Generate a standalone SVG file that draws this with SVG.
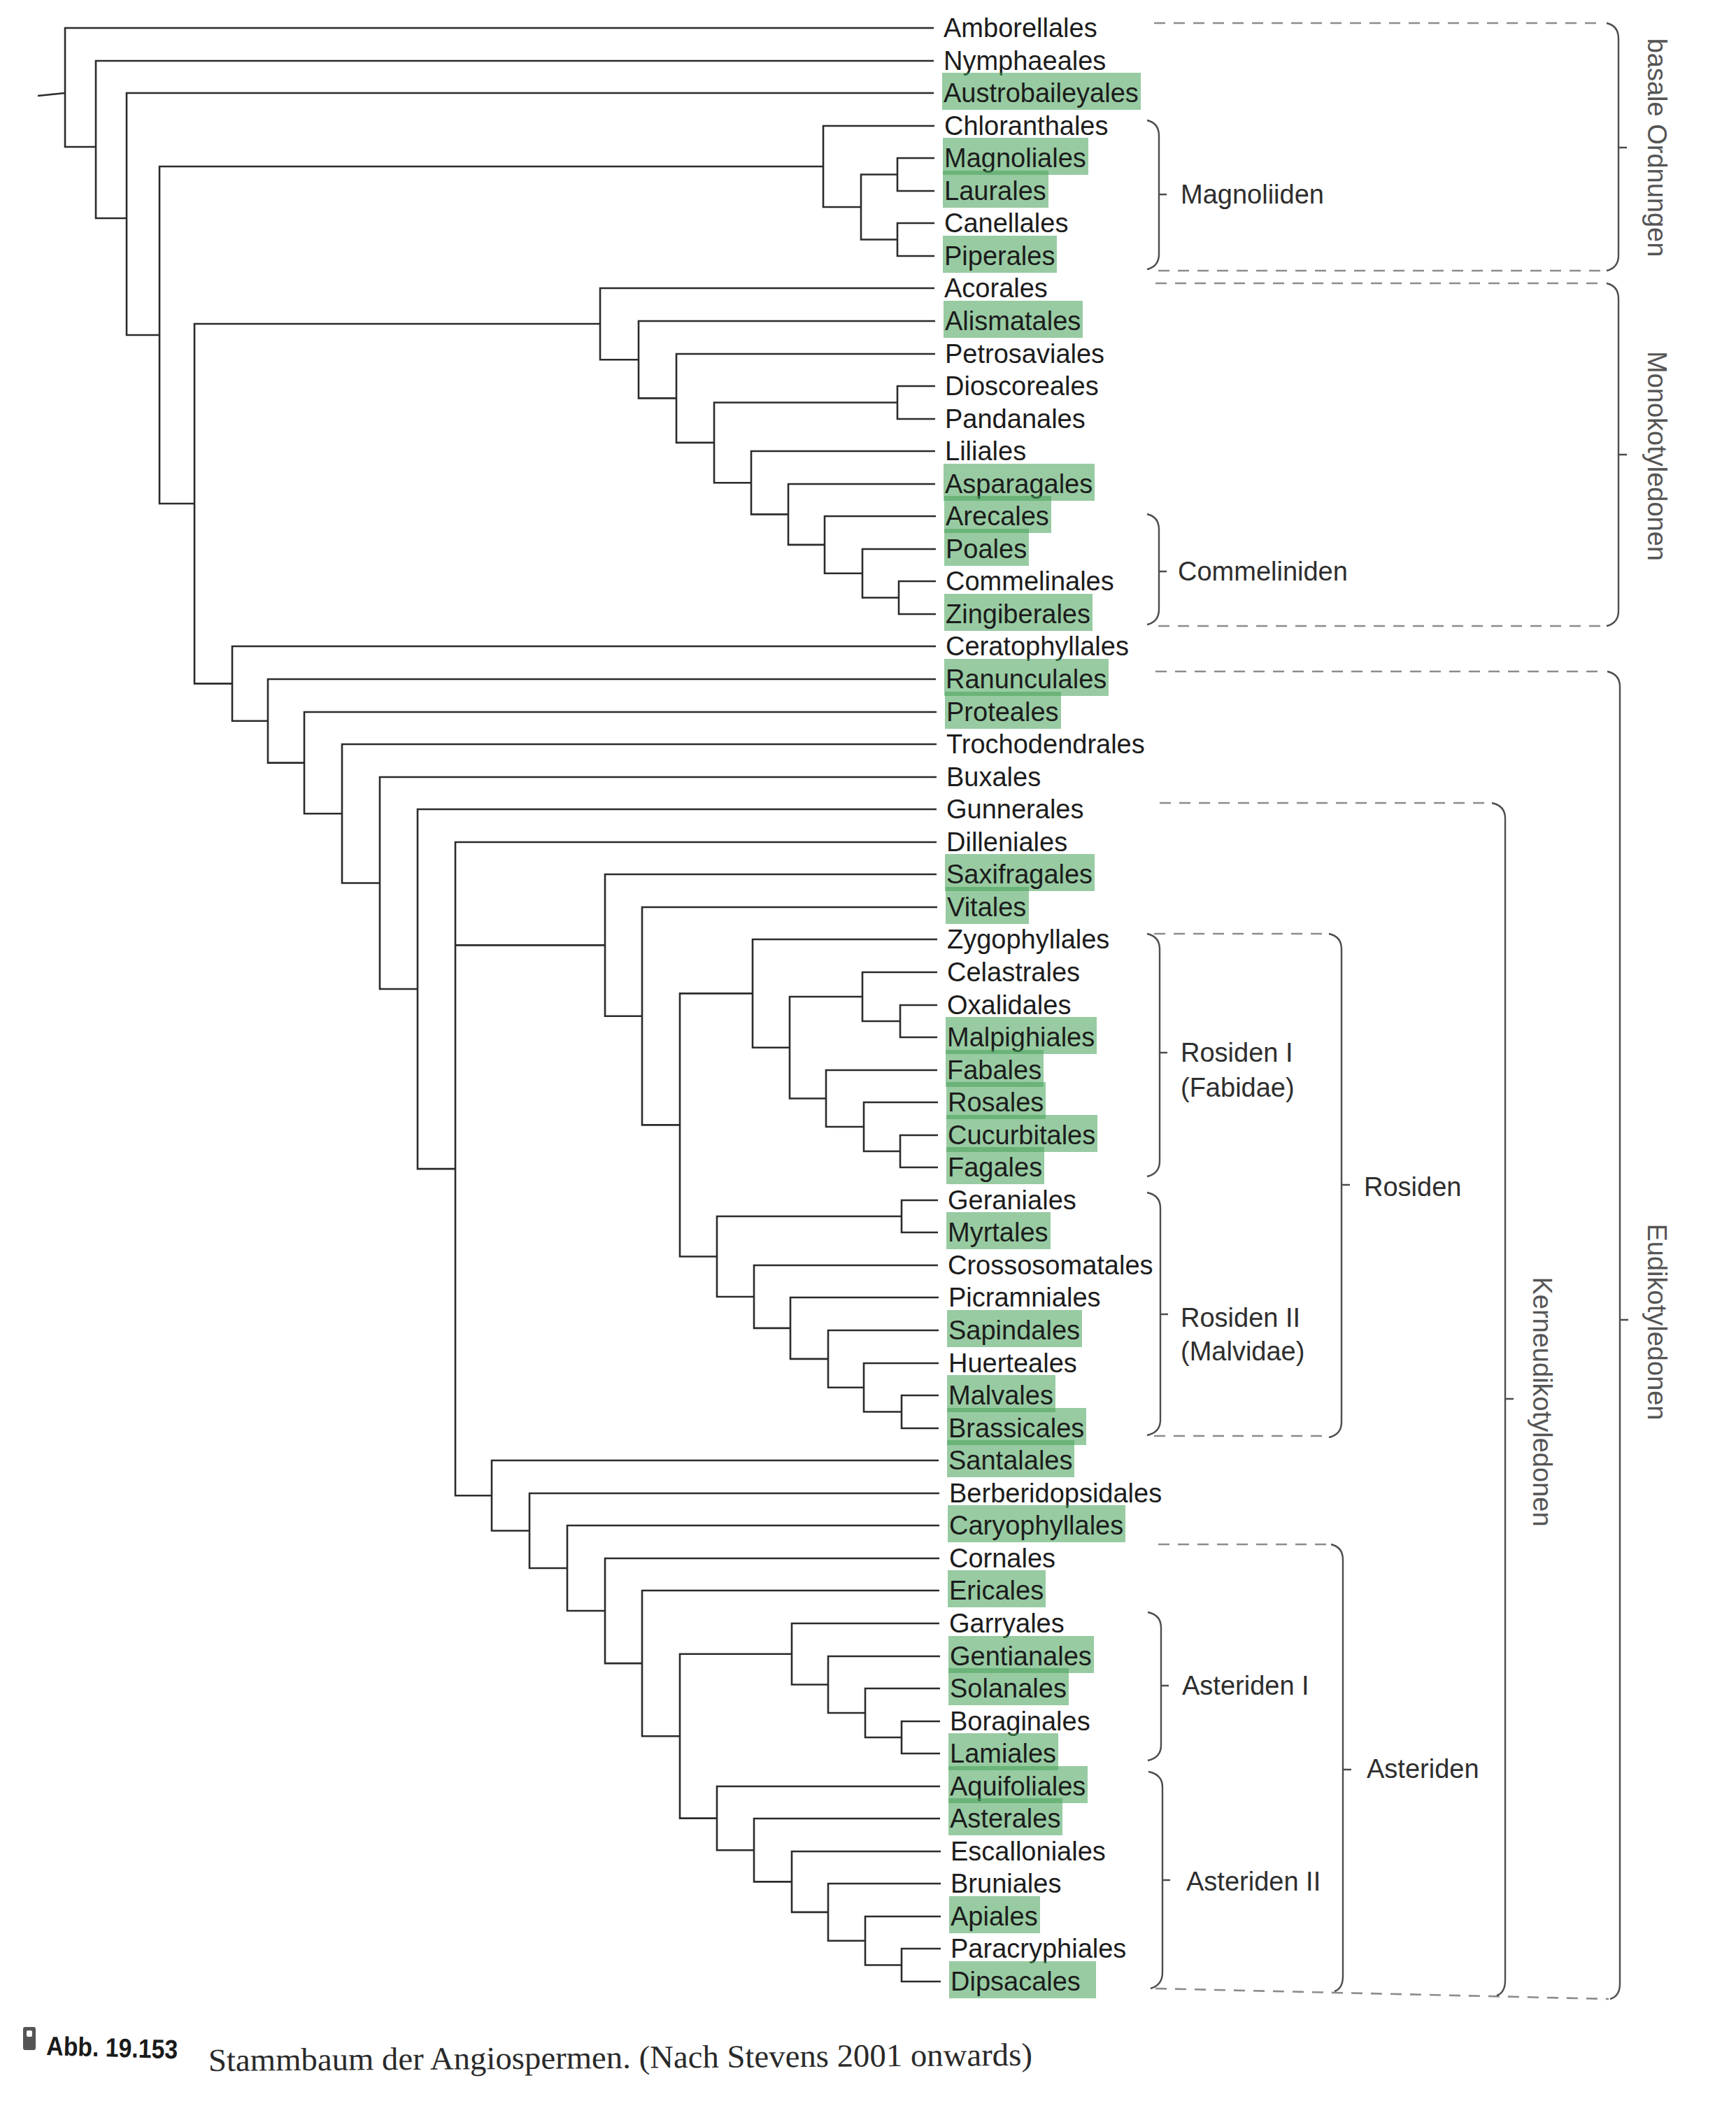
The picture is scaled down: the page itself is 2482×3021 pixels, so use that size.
<svg xmlns="http://www.w3.org/2000/svg" width="2482" height="3021" viewBox="0 0 2482 3021">
<style>
.bg{fill:#fff}
.tree{fill:none;stroke:#2b2b2b;stroke-width:2.6;stroke-linejoin:miter}
.leaf{font-family:"Liberation Sans",Arial,sans-serif;font-size:38px;fill:#1c1c1c}
.hl{fill:#48a35a;fill-opacity:.56}
.brace{fill:none;stroke:#4d4d4d;stroke-width:2.4}
.dash{fill:none;stroke:#8c8c8c;stroke-width:2.6;stroke-dasharray:16 12}
.clade{font-family:"Liberation Sans",Arial,sans-serif;font-size:38px;fill:#2e2e2e}
.vlab{font-family:"Liberation Sans",Arial,sans-serif;font-size:38px;fill:#555;text-anchor:middle}
.capb{font-family:"Liberation Sans",Arial,sans-serif;font-size:38px;font-weight:bold;fill:#1a1a1a}
.caps{font-family:"Liberation Serif","Times New Roman",serif;font-size:46px;fill:#2a2a2a}
</style>
<rect class="bg" x="0" y="0" width="2482" height="3021"/>

<g id="connectors" class="tree">
<path d="M54 137L93 133"/>
<path d="M1335 40H93V210H137"/>
<path d="M1335 87H137V312H181"/>
<path d="M1335 133H181V479H228"/>
<path d="M1177 238H228V720H278"/>
<path d="M1336 180H1177V296H1231"/>
<path d="M1283 249.5H1231V342.5H1283"/>
<path d="M1336 226H1283V273H1336"/>
<path d="M1336 319H1283V366H1336"/>
<path d="M858 463H278V977.4H332"/>
<path d="M1336 412H858V514.2H913"/>
<path d="M1337 459H913V569.4H967"/>
<path d="M1337 506H967V632.9H1021"/>
<path d="M1283 575.5H1021V690.2H1074"/>
<path d="M1337 552H1283V599H1337"/>
<path d="M1337 645H1074V735.4H1127"/>
<path d="M1337 692H1127V778.9H1179"/>
<path d="M1338 738H1179V819.8H1233"/>
<path d="M1338 785H1233V854.5H1285"/>
<path d="M1338 831H1285V878H1338"/>
<path d="M1338 924H332V1030.8H383"/>
<path d="M1338 971H383V1090.6H435"/>
<path d="M1339 1018H435V1163.3H489"/>
<path d="M1339 1064H489V1262.5H543"/>
<path d="M1339 1111H543V1414H597"/>
<path d="M1339 1157H597V1671.1H651"/>
<path d="M1339 1204H651V2138.3H703M651 1351.4H865"/>
<path d="M1339 1250H865V1452.7H918"/>
<path d="M1340 1297H918V1608.4H972"/>
<path d="M1076 1420.4H972V1796.5H1025"/>
<path d="M1340 1343H1076V1497.8H1129"/>
<path d="M1233 1425H1129V1570.5H1181"/>
<path d="M1340 1390H1233V1460H1287"/>
<path d="M1340 1437H1287V1483H1340"/>
<path d="M1340 1530H1181V1611H1235"/>
<path d="M1341 1576H1235V1646H1287"/>
<path d="M1341 1623H1287V1669H1341"/>
<path d="M1289 1739H1025V1854H1078"/>
<path d="M1341 1716H1289V1762H1341"/>
<path d="M1341 1809H1078V1898.9H1130"/>
<path d="M1342 1855H1130V1942.9H1184"/>
<path d="M1342 1902H1184V1983.8H1235"/>
<path d="M1342 1949H1235V2018.5H1289"/>
<path d="M1342 1995H1289V2042H1342"/>
<path d="M1342 2088H703V2188.5H757"/>
<path d="M1343 2135H757V2242H811"/>
<path d="M1343 2181H811V2303H865"/>
<path d="M1343 2228H865V2378.1H918"/>
<path d="M1343 2274H918V2482.2H972"/>
<path d="M1132 2364.8H972V2599.6H1025"/>
<path d="M1343 2321H1132V2408.5H1184"/>
<path d="M1344 2368H1184V2449H1237"/>
<path d="M1344 2414H1237V2484H1289"/>
<path d="M1344 2461H1289V2507H1344"/>
<path d="M1344 2554H1025V2645.2H1078"/>
<path d="M1344 2600H1078V2690.4H1132"/>
<path d="M1345 2647H1132V2733.9H1184"/>
<path d="M1345 2693H1184V2774.8H1237"/>
<path d="M1345 2740H1237V2809.5H1289"/>
<path d="M1345 2786H1289V2833H1345"/>
</g>

<g id="leaves">
<g id="amborellales"><text class="leaf" x="1349" y="53">Amborellales</text></g>
<g id="nymphaeales"><text class="leaf" x="1349" y="100">Nymphaeales</text></g>
<g id="austrobaileyales"><rect class="hl" x="1347" y="104" width="284" height="53"/><text class="leaf" x="1349" y="146">Austrobaileyales</text></g>
<g id="chloranthales"><text class="leaf" x="1350" y="193">Chloranthales</text></g>
<g id="magnoliales"><rect class="hl" x="1348" y="197" width="208" height="53"/><text class="leaf" x="1350" y="239">Magnoliales</text></g>
<g id="laurales"><rect class="hl" x="1348" y="244" width="151" height="53"/><text class="leaf" x="1350" y="286">Laurales</text></g>
<g id="canellales"><text class="leaf" x="1350" y="332">Canellales</text></g>
<g id="piperales"><rect class="hl" x="1348" y="337" width="163" height="53"/><text class="leaf" x="1350" y="379">Piperales</text></g>
<g id="acorales"><text class="leaf" x="1350" y="425">Acorales</text></g>
<g id="alismatales"><rect class="hl" x="1349" y="430" width="199" height="53"/><text class="leaf" x="1351" y="472">Alismatales</text></g>
<g id="petrosaviales"><text class="leaf" x="1351" y="519">Petrosaviales</text></g>
<g id="dioscoreales"><text class="leaf" x="1351" y="565">Dioscoreales</text></g>
<g id="pandanales"><text class="leaf" x="1351" y="612">Pandanales</text></g>
<g id="liliales"><text class="leaf" x="1351" y="658">Liliales</text></g>
<g id="asparagales"><rect class="hl" x="1349" y="663" width="216" height="53"/><text class="leaf" x="1351" y="705">Asparagales</text></g>
<g id="arecales"><rect class="hl" x="1350" y="709" width="153" height="53"/><text class="leaf" x="1352" y="751">Arecales</text></g>
<g id="poales"><rect class="hl" x="1350" y="756" width="121" height="53"/><text class="leaf" x="1352" y="798">Poales</text></g>
<g id="commelinales"><text class="leaf" x="1352" y="844">Commelinales</text></g>
<g id="zingiberales"><rect class="hl" x="1350" y="849" width="212" height="53"/><text class="leaf" x="1352" y="891">Zingiberales</text></g>
<g id="ceratophyllales"><text class="leaf" x="1352" y="937">Ceratophyllales</text></g>
<g id="ranunculales"><rect class="hl" x="1350" y="942" width="235" height="53"/><text class="leaf" x="1352" y="984">Ranunculales</text></g>
<g id="proteales"><rect class="hl" x="1351" y="989" width="166" height="53"/><text class="leaf" x="1353" y="1031">Proteales</text></g>
<g id="trochodendrales"><text class="leaf" x="1353" y="1077">Trochodendrales</text></g>
<g id="buxales"><text class="leaf" x="1353" y="1124">Buxales</text></g>
<g id="gunnerales"><text class="leaf" x="1353" y="1170">Gunnerales</text></g>
<g id="dilleniales"><text class="leaf" x="1353" y="1217">Dilleniales</text></g>
<g id="saxifragales"><rect class="hl" x="1351" y="1221" width="214" height="53"/><text class="leaf" x="1353" y="1263">Saxifragales</text></g>
<g id="vitales"><rect class="hl" x="1352" y="1268" width="119" height="53"/><text class="leaf" x="1354" y="1310">Vitales</text></g>
<g id="zygophyllales"><text class="leaf" x="1354" y="1356">Zygophyllales</text></g>
<g id="celastrales"><text class="leaf" x="1354" y="1403">Celastrales</text></g>
<g id="oxalidales"><text class="leaf" x="1354" y="1450">Oxalidales</text></g>
<g id="malpighiales"><rect class="hl" x="1352" y="1454" width="216" height="53"/><text class="leaf" x="1354" y="1496">Malpighiales</text></g>
<g id="fabales"><rect class="hl" x="1352" y="1501" width="140" height="53"/><text class="leaf" x="1354" y="1543">Fabales</text></g>
<g id="rosales"><rect class="hl" x="1353" y="1547" width="142" height="53"/><text class="leaf" x="1355" y="1589">Rosales</text></g>
<g id="cucurbitales"><rect class="hl" x="1353" y="1594" width="216" height="53"/><text class="leaf" x="1355" y="1636">Cucurbitales</text></g>
<g id="fagales"><rect class="hl" x="1353" y="1640" width="140" height="53"/><text class="leaf" x="1355" y="1682">Fagales</text></g>
<g id="geraniales"><text class="leaf" x="1355" y="1729">Geraniales</text></g>
<g id="myrtales"><rect class="hl" x="1353" y="1733" width="149" height="53"/><text class="leaf" x="1355" y="1775">Myrtales</text></g>
<g id="crossosomatales"><text class="leaf" x="1355" y="1822">Crossosomatales</text></g>
<g id="picramniales"><text class="leaf" x="1356" y="1868">Picramniales</text></g>
<g id="sapindales"><rect class="hl" x="1354" y="1873" width="193" height="53"/><text class="leaf" x="1356" y="1915">Sapindales</text></g>
<g id="huerteales"><text class="leaf" x="1356" y="1962">Huerteales</text></g>
<g id="malvales"><rect class="hl" x="1354" y="1966" width="155" height="53"/><text class="leaf" x="1356" y="2008">Malvales</text></g>
<g id="brassicales"><rect class="hl" x="1354" y="2013" width="199" height="53"/><text class="leaf" x="1356" y="2055">Brassicales</text></g>
<g id="santalales"><rect class="hl" x="1354" y="2059" width="182" height="53"/><text class="leaf" x="1356" y="2101">Santalales</text></g>
<g id="berberidopsidales"><text class="leaf" x="1357" y="2148">Berberidopsidales</text></g>
<g id="caryophyllales"><rect class="hl" x="1355" y="2152" width="254" height="53"/><text class="leaf" x="1357" y="2194">Caryophyllales</text></g>
<g id="cornales"><text class="leaf" x="1357" y="2241">Cornales</text></g>
<g id="ericales"><rect class="hl" x="1355" y="2245" width="140" height="53"/><text class="leaf" x="1357" y="2287">Ericales</text></g>
<g id="garryales"><text class="leaf" x="1357" y="2334">Garryales</text></g>
<g id="gentianales"><rect class="hl" x="1356" y="2339" width="208" height="53"/><text class="leaf" x="1358" y="2381">Gentianales</text></g>
<g id="solanales"><rect class="hl" x="1356" y="2385" width="172" height="53"/><text class="leaf" x="1358" y="2427">Solanales</text></g>
<g id="boraginales"><text class="leaf" x="1358" y="2474">Boraginales</text></g>
<g id="lamiales"><rect class="hl" x="1356" y="2478" width="157" height="53"/><text class="leaf" x="1358" y="2520">Lamiales</text></g>
<g id="aquifoliales"><rect class="hl" x="1356" y="2525" width="199" height="53"/><text class="leaf" x="1358" y="2567">Aquifoliales</text></g>
<g id="asterales"><rect class="hl" x="1356" y="2571" width="163" height="53"/><text class="leaf" x="1358" y="2613">Asterales</text></g>
<g id="escalloniales"><text class="leaf" x="1359" y="2660">Escalloniales</text></g>
<g id="bruniales"><text class="leaf" x="1359" y="2706">Bruniales</text></g>
<g id="apiales"><rect class="hl" x="1357" y="2711" width="130" height="53"/><text class="leaf" x="1359" y="2753">Apiales</text></g>
<g id="paracryphiales"><text class="leaf" x="1359" y="2799">Paracryphiales</text></g>
<g id="dipsacales"><rect class="hl" x="1357" y="2804" width="210" height="53"/><text class="leaf" x="1359" y="2846">Dipsacales</text></g>
</g>

<g id="dashes" class="dash">
<path d="M1650 33H2292"/>
<path d="M1656 387H2292"/>
<path d="M1652 405H2292"/>
<path d="M1656 895H2292"/>
<path d="M1652 960H2293"/>
<path d="M1658 1148H2128"/>
<path d="M1650 1335H1896"/>
<path d="M1650 2053H1896"/>
<path d="M1656 2208H1898"/>
<path d="M1652 2843L2300 2858"/>
</g>

<g id="clade-magnoliiden"><path class="brace" d="M1640 172Q1657 176 1657 194V363Q1657 381 1640 385M1657 278h11"/><text class="clade" x="1688" y="291">Magnoliiden</text></g>
<g id="clade-commeliniden"><path class="brace" d="M1640 735Q1657 739 1657 757V871Q1657 889 1640 893M1657 817h11"/><text class="clade" x="1684" y="830">Commeliniden</text></g>
<g id="clade-rosiden-1"><path class="brace" d="M1640 1335Q1658 1339 1658 1357V1660Q1658 1678 1640 1682M1658 1505h11"/><text class="clade" x="1688" y="1518">Rosiden I</text><text class="clade" x="1688" y="1568">(Fabidae)</text></g>
<g id="clade-rosiden-2"><path class="brace" d="M1640 1705Q1659 1709 1659 1727V2030Q1659 2048 1640 2052M1659 1879h11"/><text class="clade" x="1688" y="1897">Rosiden II</text><text class="clade" x="1688" y="1945">(Malvidae)</text></g>
<g id="clade-asteriden-1"><path class="brace" d="M1641 2305Q1660 2309 1660 2327V2495Q1660 2513 1641 2517M1660 2410h11"/><text class="clade" x="1690" y="2423">Asteriden I</text></g>
<g id="clade-asteriden-2"><path class="brace" d="M1642 2533Q1662 2537 1662 2555V2820Q1662 2838 1645 2843M1662 2688h11"/><text class="clade" x="1696" y="2703">Asteriden II</text></g>
<g id="clade-rosiden"><path class="brace" d="M1900 1335Q1918 1339 1918 1357V2033Q1918 2051 1900 2055M1918 1694h12"/><text class="clade" x="1950" y="1710">Rosiden</text></g>
<g id="clade-asteriden"><path class="brace" d="M1903 2208Q1920 2212 1920 2230V2825Q1920 2843 1908 2847M1920 2530h12"/><text class="clade" x="1954" y="2542">Asteriden</text></g>
<g id="clade-kerneudikotyledonen"><path class="brace" d="M2133 1148Q2152 1152 2152 1170V2831Q2152 2849 2140 2853M2152 2000h12"/><text class="vlab" transform="translate(2205 2004) rotate(90)" x="0" y="13">Kerneudikotyledonen</text></g>
<g id="clade-basale"><path class="brace" d="M2297 33Q2314 37 2314 55V365Q2314 383 2297 387M2314 211h12"/><text class="vlab" transform="translate(2369 211) rotate(90)" x="0" y="13">basale Ordnungen</text></g>
<g id="clade-monokotyledonen"><path class="brace" d="M2297 405Q2314 409 2314 427V873Q2314 891 2297 895M2314 650h12"/><text class="vlab" transform="translate(2369 652) rotate(90)" x="0" y="13">Monokotyledonen</text></g>
<g id="clade-eudikotyledonen"><path class="brace" d="M2298 960Q2316 964 2316 982V2836Q2316 2854 2302 2858M2316 1887h12"/><text class="vlab" transform="translate(2369 1890) rotate(90)" x="0" y="13">Eudikotyledonen</text></g>

<g id="caption">
<rect x="33" y="2898" width="18" height="33" rx="3" fill="#555"/>
<rect x="38" y="2903" width="8" height="9" rx="2" fill="#fff"/>
<text class="capb" x="66" y="2938" textLength="188" lengthAdjust="spacingAndGlyphs" transform="rotate(1.6 66 2938)">Abb. 19.153</text>
<text class="caps" x="298" y="2961" textLength="1178" lengthAdjust="spacingAndGlyphs" transform="rotate(-0.4 298 2961)">Stammbaum der Angiospermen. (Nach Stevens 2001 onwards)</text>
</g>
</svg>
